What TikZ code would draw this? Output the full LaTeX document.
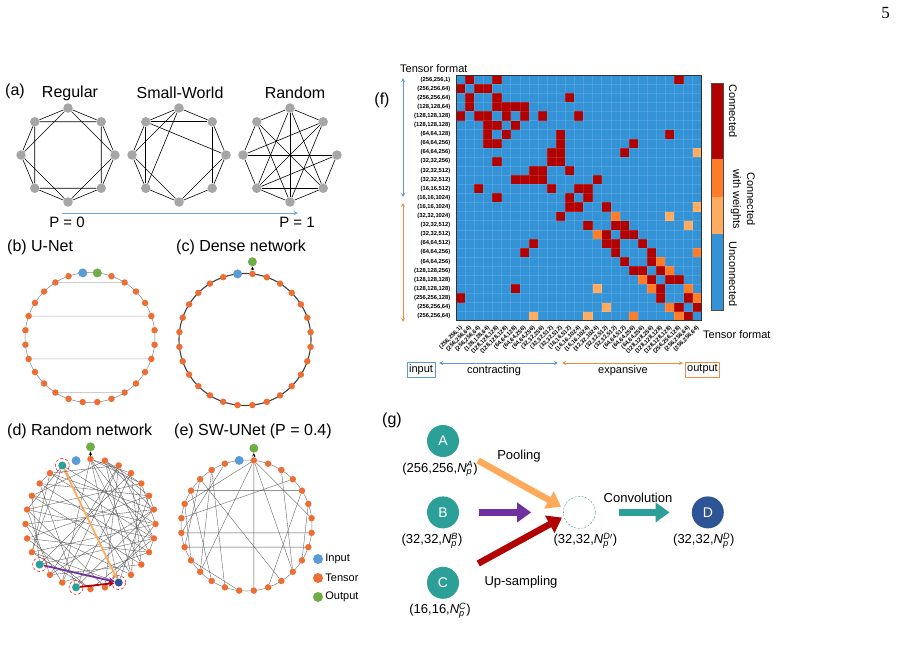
\documentclass[tikz,border=0pt]{standalone}
\usepackage{fontspec}
\setmainfont{Liberation Sans}
\newfontfamily\pagenumfont{Liberation Serif}
\usepackage{tikz}
\usetikzlibrary{arrows, arrows.meta, positioning, calc, backgrounds}
\definecolor{grnode}{RGB}{166,166,166}
\definecolor{tensorc}{RGB}{237,110,52}
\definecolor{inputc}{RGB}{91,155,213}
\definecolor{outputc}{RGB}{112,173,71}
\definecolor{tealc}{RGB}{44,160,152}
\definecolor{dblue}{RGB}{46,84,150}
\definecolor{poolc}{RGB}{255,170,90}
\definecolor{purplec}{RGB}{112,48,160}
\definecolor{dredc}{RGB}{176,0,0}
\definecolor{cellblue}{RGB}{52,146,214}
\definecolor{cellorange}{RGB}{255,125,40}
\definecolor{celllight}{RGB}{255,172,96}
\definecolor{pblue}{RGB}{111,168,220}
\definecolor{porange}{RGB}{240,140,70}
\tikzstyle{edge} = [black, line width=0.6pt]
\tikzstyle{thin edge} = [gray!70!black, line width=0.35pt]
\tikzstyle{gnode} = [circle, fill=grnode, inner sep=0pt, minimum size=9.5pt]
\tikzstyle{tensor} = [circle, fill=tensorc, inner sep=0pt, minimum size=6.5pt]
\tikzstyle{innode} = [circle, fill=inputc, inner sep=0pt, minimum size=9pt]
\tikzstyle{outnode} = [circle, fill=outputc, inner sep=0pt, minimum size=9pt]
\tikzstyle{outarrow} = [black, line width=0.6pt, ->, >=stealth]
\tikzstyle{title} = [font=\fontsize{16}{18}\selectfont, inner sep=0pt]
\tikzstyle{small} = [font=\fontsize{11}{13}\selectfont, inner sep=0pt]
\tikzstyle{lbl} = [font=\fontsize{5.8}{7}\selectfont\bfseries, inner sep=0pt]
\tikzstyle{glbl} = [font=\fontsize{13}{15}\selectfont, inner sep=0pt]
\tikzstyle{gnet} = [circle, fill=tealc, text=white, minimum size=32pt, inner sep=0pt, font=\fontsize{14}{16}\selectfont]
\tikzstyle{fat} = [line width=6.5pt, -{Triangle[length=14pt, width=19pt]}]
\tikzstyle{mark ring} = [circle, draw=red, densely dashed, line width=0.5pt, minimum size=14pt, inner sep=0pt]

\begin{document}
\begin{tikzpicture}[x=1pt, y=-1pt]
    \useasboundingbox (0,0) rectangle (897,656);
    \node (pg) [font=\pagenumfont\fontsize{17}{19}\selectfont, inner sep=0pt] at (885.5,13.5) {5};

    % (a) Regular, Small-World, Random
    \node (ta) [title] at (15,91) {(a)};
    \node (treg) [title] at (70,93) {Regular};
    \node (tsw) [title] at (180,93) {Small-World};
    \node (trnd) [title] at (295,93) {Random};
    \foreach \cx/\nm in {68/r, 179/s, 290/w}
        \foreach \i in {0,...,7}
            \node (\nm\i) [gnode] at ($(\cx,155)+({45*\i-90}:47)$) {};
    \begin{scope}[on background layer]
        \foreach \i in {0,...,7} {
            \pgfmathtruncatemacro\ja{mod(\i+1,8)}
            \pgfmathtruncatemacro\jb{mod(\i+2,8)}
            \draw [edge] (r\i) -- (r\ja) (r\i) -- (r\jb);
        }
        \foreach \a/\b in {0/1,1/2,2/3,3/4,4/5,5/6,6/7,7/0,7/1,7/2,7/5,0/6,0/5,6/4,2/4,1/3}
            \draw [edge] (s\a) -- (s\b);
        \foreach \a/\b in {0/7,0/1,0/4,0/5,0/3,7/6,7/3,7/4,1/6,1/5,1/4,2/6,2/5,2/3,6/5,5/3,5/4,4/3}
            \draw [edge] (w\a) -- (w\b);
    \end{scope}
    \coordinate (pa) at (62,213);
    \coordinate (pb) at (298,213);
    \draw [pblue, line width=1pt, ->, >=stealth] (pa) -- (pb);
    \node (p0) [title, font=\fontsize{15}{17}\selectfont] at (67,222) {P = 0};
    \node (p1) [title, font=\fontsize{15}{17}\selectfont] at (297,222) {P = 1};

    % (b) U-Net
    \node (tb) [title, anchor=west] at (7,247) {(b) U-Net};
    \draw [gray, line width=0.5pt] (90,337.5) circle (65);
    \node (b0) [outnode] at ($(90,337.5)+(-83.57:65)$) {};
    \node (b1) [innode] at ($(90,337.5)+(-96.43:65)$) {};
    \foreach \j in {2,...,27}
        \node (b\j) [tensor] at ($(90,337.5)+({-(83.57+12.857*\j)}:65)$) {};
    \begin{scope}[on background layer]
        \foreach \a/\b in {3/26,6/23,9/20,12/17}
            \draw [gray!60, line width=0.5pt] (b\a) -- (b\b);
    \end{scope}

    % (c) Dense network
    \node (tc) [title, anchor=west] at (176,247) {(c) Dense network};
    \draw [gray!50!black, line width=1.1pt] (245,339.5) circle (66);
    \node (c1) [innode] at ($(245,339.5)+(-96.43:66)$) {};
    \foreach \j in {0,2,3,...,27}
        \node (c\j) [tensor] at ($(245,339.5)+({-(83.57+12.857*\j)}:66)$) {};
    \node (cout) [outnode, above=4pt of c0] {};
    \draw [outarrow] (c0) -- (cout);

    % (d) Random network
    \node (td) [title, anchor=west] at (7,431) {(d) Random network};
    \node (d1) [innode] at ($(90.5,524)+(-102.86:65)$) {};
    \foreach \j in {0,2,3,...,27}
        \node (d\j) [tensor] at ($(90.5,524)+({-(90+12.857*\j)}:65)$) {};
    \begin{scope}[on background layer]
        \foreach \a/\b in {0/16,0/18,0/20,0/24,0/12,2/6,2/9,2/17,3/20,3/22,4/19,4/23,4/13,5/21,5/18,5/10,6/20,6/15,6/24,7/22,7/17,7/12,8/19,8/23,8/14,9/21,9/16,10/25,10/20,11/18,11/22,12/26,12/19,13/22,13/25,14/20,15/21,15/26,16/23,17/24,17/27,18/25,19/27,20/26,21/24,22/27,23/27,24/27,25/0,26/3,27/5,3/9,2/21,11/26,9/14,6/11,3/4,19/20,22/23}
            \draw [thin edge] (d\a) -- (d\b);
    \end{scope}
    \node (dA) [tensor, fill=tealc, minimum size=8pt] at (d2) {};
    \node (dB) [tensor, fill=tealc, minimum size=8pt] at (d10) {};
    \node (dC) [tensor, fill=tealc, minimum size=8pt] at (d13) {};
    \node (dD) [tensor, fill=dblue, minimum size=8pt] at (d16) {};
    \draw [poolc, line width=1.8pt, -{Stealth[length=6pt, width=6pt]}] (dA) -- (dD);
    \draw [purplec, line width=1.8pt, -{Stealth[length=6pt, width=6pt]}] (dB) -- (dD);
    \draw [dredc, line width=1.8pt, -{Stealth[length=6pt, width=6pt]}] (dC) -- (dD);
    \foreach \n in {dA,dB,dC,dD}
        \node [mark ring] at (\n) {};
    \node (dout) [outnode, above=4pt of d0] {};
    \draw [outarrow] (d0) -- (dout);

    % (e) SW-UNet
    \node (te) [title, anchor=west] at (174,431) {(e) SW-UNet (P = 0.4)};
    \draw [gray, line width=0.5pt] (246.5,525.5) circle (65.5);
    \node (e1) [innode] at ($(246.5,525.5)+(-96.43:65.5)$) {};
    \foreach \j in {0,2,3,...,27}
        \node (e\j) [tensor] at ($(246.5,525.5)+({-(83.57+12.857*\j)}:65.5)$) {};
    \begin{scope}[on background layer]
        \foreach \a/\b in {0/15,0/6,0/11,0/18,0/22,3/13,4/17,5/12,6/10,7/25,8/21,9/20,5/24,3/11,2/8,26/18,24/16,23/19,10/14,4/9}
            \draw [thin edge] (e\a) -- (e\b);
    \end{scope}
    \node (eout) [outnode, above=4pt of e0] {};
    \draw [outarrow] (e0) -- (eout);

    % Legend
    \node (lgin) [innode, minimum size=10pt] at (318,559) {};
    \node (lgt) [tensor, minimum size=10pt] at (318,578) {};
    \node (lgout) [outnode, minimum size=10pt] at (318,597) {};
    \node [small, anchor=west, right=2pt of lgin] {Input};
    \node [small, anchor=west, right=2pt of lgt] {Tensor};
    \node [small, anchor=west, right=2pt of lgout] {Output};

    % (f) Matriz de conexiones
    \node (tf) [title] at (382,100) {(f)};
    \node (tfmt) [small, anchor=west] at (400,69) {Tensor format};
    \begin{scope}[shift={(456,75)}, x=9.1pt, y=-9.1pt]
        \fill [cellblue] (0,0) rectangle (27,27);
        \foreach \r/\c in {0/1,0/4,0/24,1/0,1/2,1/3,2/1,2/4,2/12,3/1,3/4,3/5,3/6,3/7,4/0,4/2,4/3,4/5,4/7,4/9,4/13,5/3,5/4,5/6,6/3,6/5,6/11,6/23,7/3,7/4,7/11,7/19,8/10,8/11,8/18,9/4,9/10,9/11,10/8,10/9,10/12,11/6,11/7,11/8,11/9,11/15,12/2,12/10,12/13,12/14,13/4,13/12,13/14,14/12,14/13,14/16,15/11,16/14,16/17,16/18,17/16,17/18,17/19,18/8,18/16,18/17,18/20,19/7,19/17,19/21,20/18,20/21,21/19,21/20,21/22,22/21,22/23,22/24,23/6,23/22,24/0,24/22,24/25,25/24,25/26,26/25}
            \fill [dredc] (\c,\r) rectangle ++(1,1);
        \foreach \r/\c in {15/17,17/15,19/26,20/22,21/23,22/20,23/21,23/25,24/26,25/23,26/19,26/24}
            \fill [cellorange] (\c,\r) rectangle ++(1,1);
        \foreach \r/\c in {8/26,14/26,15/23,16/25,23/15,25/16,26/8,26/14}
            \fill [celllight] (\c,\r) rectangle ++(1,1);
        \foreach \i in {1,...,26}
            \draw [white, opacity=0.12, line width=0.4pt] (\i,0) -- (\i,27) (0,\i) -- (27,\i);
        \draw [black!80, line width=0.8pt] (0,0) rectangle (27,27);
        \foreach \t [count=\i from 0] in {{(256,256,1)},{(256,256,64)},{(256,256,64)},{(128,128,64)},{(128,128,128)},{(128,128,128)},{(64,64,128)},{(64,64,256)},{(64,64,256)},{(32,32,256)},{(32,32,512)},{(32,32,512)},{(16,16,512)},{(16,16,1024)},{(16,16,1024)},{(32,32,1024)},{(32,32,512)},{(32,32,512)},{(64,64,512)},{(64,64,256)},{(64,64,256)},{(128,128,256)},{(128,128,128)},{(128,128,128)},{(256,256,128)},{(256,256,64)},{(256,256,64)}} {
            \node [lbl, anchor=east] at (-0.6,\i+0.5) {\t};
            \node [lbl, anchor=east, rotate=45] at (\i+0.6,27.7) {\t};
        }
    \end{scope}
    \coordinate (cu) at (403,78);
    \coordinate (cd) at (403,197);
    \coordinate (xu) at (403,203);
    \coordinate (xd) at (403,322);
    \draw [inputc, line width=0.8pt, <->, >=stealth] (cu) -- (cd);
    \draw [porange, line width=0.8pt, <->, >=stealth] (xu) -- (xd);
    \node (tfmt2) [small, anchor=west] at (703,335) {Tensor format};

    % Barra de colores
    \fill [dredc] (711,83) rectangle (723,159);
    \fill [cellorange] (711,159) rectangle (723,197);
    \fill [celllight] (711,197) rectangle (723,234);
    \fill [cellblue] (711,234) rectangle (723,310);
    \draw [black!70, line width=0.5pt] (711,83) rectangle (723,310);
    \node (cb1) [small, rotate=-90] at (733,111) {Connected};
    \node (cb2) [small, rotate=-90, align=center] at (743,199) {Connected\\[1pt]with weights};
    \node (cb3) [small, rotate=-90] at (733,274) {Unconnected};

    % Entrada y salida
    \node (inbox) [small, draw=inputc, line width=0.8pt, inner sep=2pt, minimum height=15pt] at (421,369.5) {input};
    \node (outbox) [small, draw=porange, line width=0.8pt, inner sep=2pt, minimum height=15pt] at (702.5,369.5) {output};
    \coordinate (ka) at (439,363);
    \coordinate (kb) at (558,363);
    \coordinate (ea) at (562,363);
    \coordinate (eb) at (683,363);
    \draw [inputc, line width=0.8pt, <->, >=stealth] (ka) -- (kb);
    \draw [porange, line width=0.8pt, <->, >=stealth] (ea) -- (eb);
    \node (contr) [small] at (494,371) {contracting};
    \node (expan) [small] at (623,371) {expansive};

    % (g) Bloque de conexion
    \node (tg) [title] at (392,420) {(g)};
    \node (A) [gnet] at (443,441) {A};
    \node (B) [gnet, below=39pt of A] {B};
    \node (C) [gnet, below=38pt of B] {C};
    \node (Dp) [circle, draw=tealc, dash pattern=on 2pt off 1.5pt, minimum size=32pt, right=104pt of B] {};
    \node (D) [gnet, fill=dblue, right=96pt of Dp] {D};
    \node (lA) [glbl, below=4pt of A, xshift=-3pt] {(256,256,$\mathit{N}_{\mathit{p}}^{\mathit{A}}$)};
    \node (lB) [glbl, below=4pt of B, xshift=-11pt] {(32,32,$\mathit{N}_{\mathit{p}}^{\mathit{B}}$)};
    \node (lC) [glbl, below=4pt of C, xshift=-3pt] {(16,16,$\mathit{N}_{\mathit{p}}^{\mathit{C}}$)};
    \node (lDp) [glbl, below=4pt of Dp, xshift=6pt] {(32,32,$\mathit{N}_{\mathit{p}}^{\mathit{D}\prime}$)};
    \node (lD) [glbl, below=4pt of D, xshift=-4pt] {(32,32,$\mathit{N}_{\mathit{p}}^{\mathit{D}}$)};
    \draw [fat, poolc, shorten <=24pt, shorten >=3pt] (A) -- (Dp.165);
    \draw [fat, purplec, shorten <=20pt, shorten >=32pt] (B) -- (Dp);
    \draw [fat, dredc, shorten <=24pt, shorten >=2pt] (C) -- (Dp.195);
    \draw [fat, tealc, shorten <=23pt, shorten >=22pt] (Dp) -- (D);
    \node (pool) [glbl] at (519,456) {Pooling};
    \node (ups) [glbl] at (521,582) {Up-sampling};
    \node (conv) [glbl] at (638,498) {Convolution};
\end{tikzpicture}
\end{document}
